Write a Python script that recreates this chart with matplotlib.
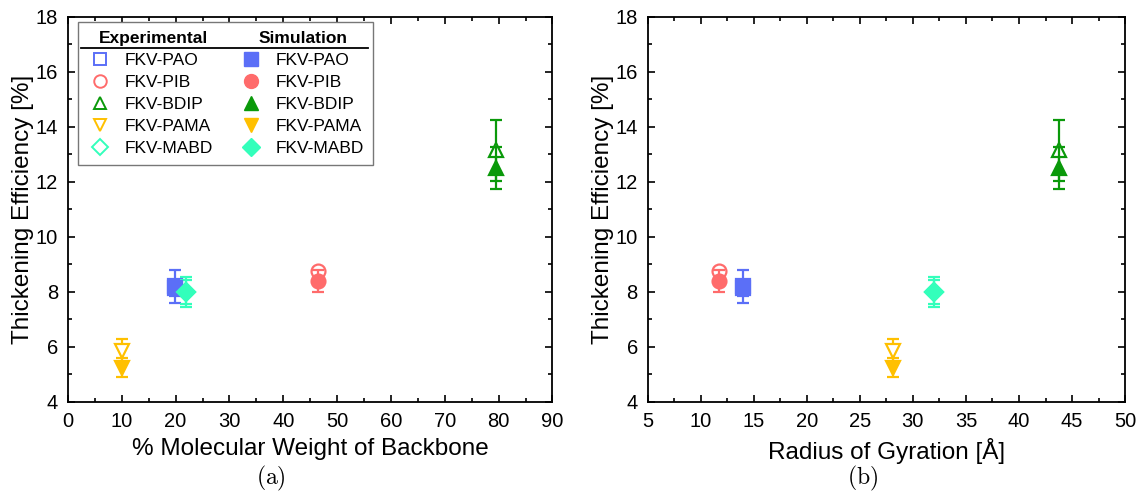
import matplotlib.pyplot as plt
from matplotlib.lines import Line2D
from matplotlib.ticker import MultipleLocator

plt.rcParams['font.family'] = ['Liberation Sans', 'DejaVu Sans']
plt.rcParams['mathtext.fontset'] = 'cm'

names = ["FKV-PAO", "FKV-PIB", "FKV-BDIP", "FKV-PAMA", "FKV-MABD"]
colors = ["#5b6ff7", "#ff6b6b", "#0a990a", "#ffc000", "#33ffbb"]
markers = ["s", "o", "^", "v", "D"]

# x positions
backbone_pct = [19.8, 46.5, 79.5, 10.0, 22.0]
radius_gyr = [14.0, 11.7, 43.8, 28.1, 32.0]

# thickening efficiency [%]
exp_te = [8.2, 8.75, 13.15, 5.85, 8.0]
exp_err = [0.6, 0.12, 1.1, 0.45, 0.55]
sim_te = [8.15, 8.4, 12.5, 5.25, 8.0]
sim_err = [0.3, 0.4, 0.75, 0.35, 0.45]

fig = plt.figure(figsize=(11.4, 4.95), dpi=100)
ax1 = fig.add_axes([0.0596, 0.188, 0.425, 0.778])
ax2 = fig.add_axes([0.568, 0.188, 0.419, 0.778])


def draw(ax, xs):
    for i in range(len(names)):
        ms = 9 if markers[i] == "D" else 10
        ax.errorbar(xs[i], exp_te[i], yerr=exp_err[i], fmt=markers[i], color=colors[i],
                    mfc="white", mec=colors[i], ms=ms, mew=1.6,
                    elinewidth=1.6, capsize=4.5, capthick=1.6, zorder=3)
        ax.errorbar(xs[i], sim_te[i], yerr=sim_err[i], fmt=markers[i], color=colors[i],
                    mfc=colors[i], mec=colors[i], ms=ms, mew=1.6,
                    elinewidth=1.6, capsize=4.5, capthick=1.6, zorder=4)
    ax.set_ylim(4, 18)
    ax.yaxis.set_major_locator(MultipleLocator(2))
    ax.yaxis.set_minor_locator(MultipleLocator(1))
    ax.tick_params(which="both", direction="in", top=True, right=True, labelsize=14.5,
                   width=1.2, pad=7)
    ax.tick_params(which="major", length=5)
    ax.tick_params(which="minor", length=3)
    for s in ax.spines.values():
        s.set_linewidth(1.3)
    ax.set_ylabel("Thickening Efficiency [%]", fontsize=17.5, labelpad=1)


draw(ax1, backbone_pct)
ax1.set_xlim(0, 90)
ax1.xaxis.set_major_locator(MultipleLocator(10))
ax1.xaxis.set_minor_locator(MultipleLocator(5))
ax1.set_xlabel("% Molecular Weight of Backbone", fontsize=17.5, labelpad=5)

draw(ax2, radius_gyr)
ax2.set_xlim(5, 50)
ax2.xaxis.set_major_locator(MultipleLocator(5))
ax2.xaxis.set_minor_locator(MultipleLocator(2.5))
ax2.set_xlabel("Radius of Gyration [Å]", fontsize=17.5, labelpad=5)

fig.text(0.238, 0.034, r"$\mathrm{(a)}$", fontsize=17, ha="center", va="center")
fig.text(0.757, 0.034, r"$\mathrm{(b)}$", fontsize=17, ha="center", va="center")

# legend: two columns, first row left empty for the headers
blank = Line2D([], [], linestyle="none")
handles = [blank]
labels = [" "]
for i in range(len(names)):
    handles.append(Line2D([], [], linestyle="none", marker=markers[i], mfc="white",
                          mec=colors[i], mew=1.4, ms=8 if markers[i] == "D" else 9))
    labels.append(names[i])
handles.append(blank)
labels.append(" ")
for i in range(len(names)):
    handles.append(Line2D([], [], linestyle="none", marker=markers[i], mfc=colors[i],
                          mec=colors[i], ms=9 if markers[i] == "D" else 10))
    labels.append(names[i])

leg = ax1.legend(handles, labels, ncol=2, loc="upper left", bbox_to_anchor=(0.021, 0.987),
                 borderaxespad=0, fontsize=12.5, frameon=True, fancybox=False, framealpha=1,
                 edgecolor="#777777", handlelength=1.5, handletextpad=0.7,
                 columnspacing=1.4, labelspacing=0.4, borderpad=0.5)
leg.get_frame().set_linewidth(1.0)
texts = leg.get_texts()

fig.canvas.draw()
inv = ax1.transAxes.inverted()
r1 = texts[1].get_window_extent()
r2 = texts[2].get_window_extent()
row_step = (r1.y0 + r1.y1) / 2 - (r2.y0 + r2.y1) / 2
yc = (r1.y0 + r1.y1) / 2 + row_step
lbox = leg.get_window_extent()
col_x = [r1.x0 - 26, texts[7].get_window_extent().x0 - 17]
for cx, title in zip(col_x, ["Experimental", "Simulation"]):
    px, py = inv.transform((cx, yc))
    ax1.text(px, py, title, fontsize=12.5, fontweight="bold", ha="left", va="center",
             transform=ax1.transAxes, zorder=6)
yline = yc - row_step * 0.45
x0, yl = inv.transform((lbox.x0 + 3, yline))
x1, _ = inv.transform((lbox.x1 - 5, yline))
ax1.plot([x0, x1], [yl, yl], color="black", lw=1.3, transform=ax1.transAxes,
         clip_on=False, zorder=6)

fig.savefig("out.png", dpi=100)
